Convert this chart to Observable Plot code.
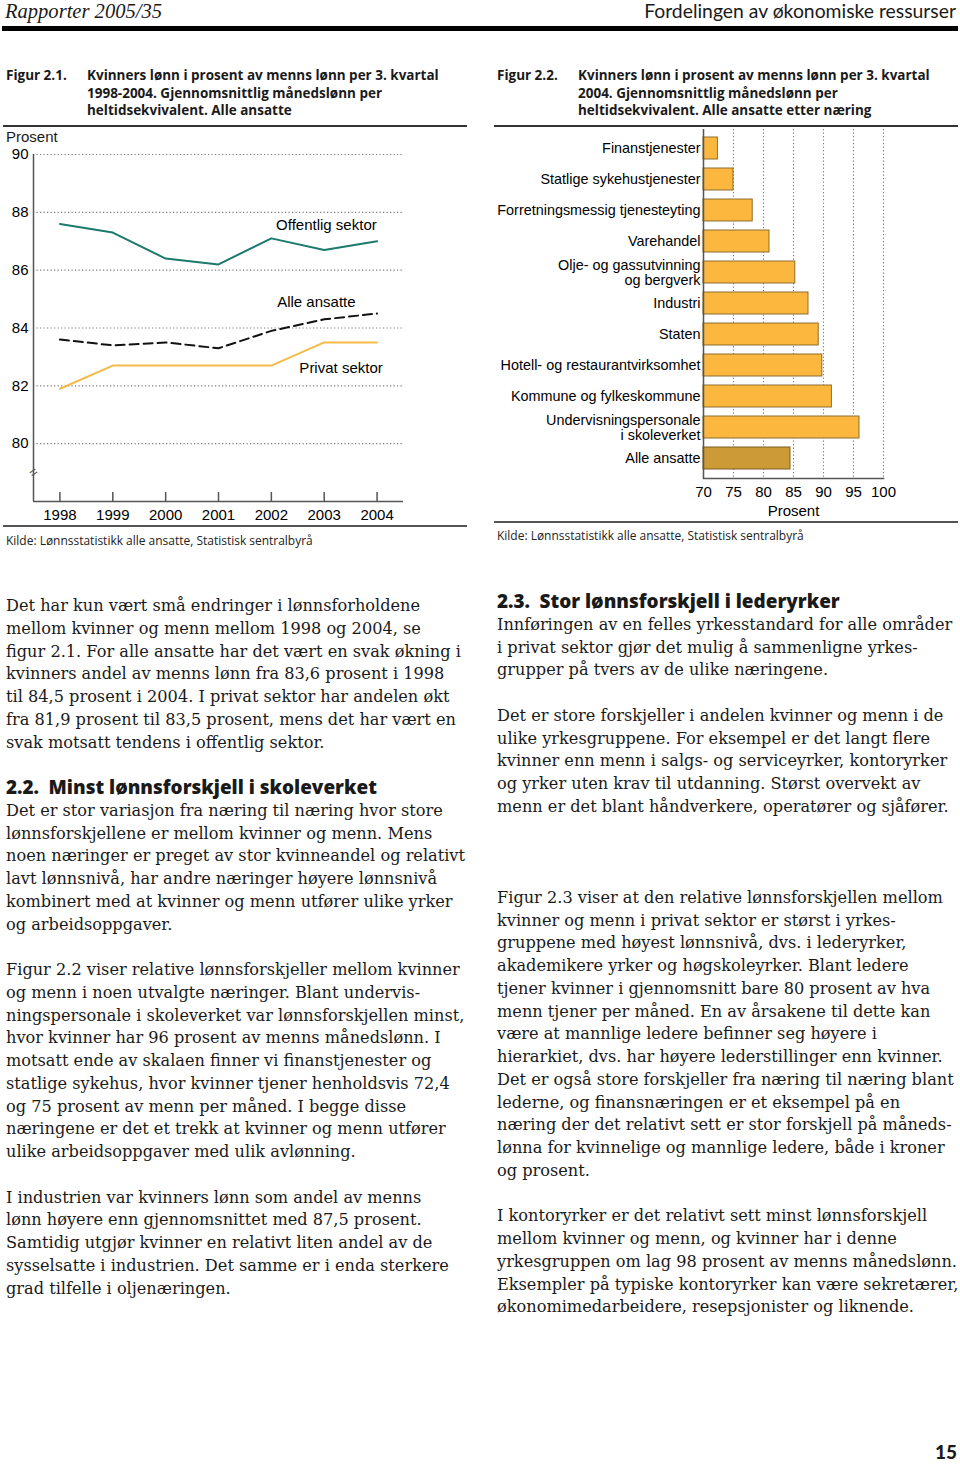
<!DOCTYPE html>
<html>
<head>
<meta charset="utf-8">
<script src="https://cdn.jsdelivr.net/npm/d3@7"></script>
<script src="https://cdn.jsdelivr.net/npm/@observablehq/plot@0.6"></script>
<style>
  html, body { margin: 0; padding: 0; background: #fff; }
  #page { position: relative; width: 960px; height: 1465px; overflow: hidden; background: #fff; color: #1a1a1a; }
  .abs { position: absolute; white-space: nowrap; }
  .serif { font-family: "DejaVu Serif", serif; font-size: 16px; line-height: 22.75px; }
  .head { font-family: "Open Sans", "Lato", sans-serif; font-weight: 800; font-size: 17px; line-height: 22.75px; }
  .ftitle { font-family: "Open Sans", "Lato", sans-serif; font-weight: 700; font-size: 13px; line-height: 17.5px; }
  .src { font-family: "Open Sans", "Lato", sans-serif; font-weight: 400; font-size: 11px; color: #222; }
  .chartsans { font-family: "Liberation Sans", Arial, sans-serif; font-size: 15px; }
  .rule { position: absolute; background: #333; }
</style>
</head>
<body>
<div id="page"></div>
<script>
// ---------- Data: Figur 2.1 ----------
const years = [1998, 1999, 2000, 2001, 2002, 2003, 2004];
const offentligSektor = [87.6, 87.3, 86.4, 86.2, 87.1, 86.7, 87.0];
const alleAnsatte = [83.6, 83.4, 83.5, 83.3, 83.9, 84.3, 84.5];
const privatSektor = [81.9, 82.7, 82.7, 82.7, 82.7, 83.5, 83.5];
const yTicks1 = [80, 82, 84, 86, 88, 90];
const seriesNames = ["Offentlig sektor", "Alle ansatte", "Privat sektor"];
const labelYear = [2002.09, 2002.11, 2002.53];
const labelValue = [87.55, 84.9, 82.62];

// ---------- Data: Figur 2.2 ----------
const naeringer = [
  "Finanstjenester",
  "Statlige sykehustjenester",
  "Forretningsmessig tjenesteyting",
  "Varehandel",
  "Olje- og gassutvinning\nog bergverk",
  "Industri",
  "Staten",
  "Hotell- og restaurantvirksomhet",
  "Kommune og fylkeskommune",
  "Undervisningspersonale\ni skoleverket",
  "Alle ansatte"
];
const andel = [72.4, 75.0, 78.2, 81.0, 85.3, 87.5, 89.2, 89.8, 91.4, 96.0, 84.5];
const xTicks2 = [70, 75, 80, 85, 90, 95, 100];
const baseline = 70;

// ---------- Text ----------
const leftLines = [
  [0, "Det har kun vært små endringer i lønnsforholdene"],
  [1, "mellom kvinner og menn mellom 1998 og 2004, se"],
  [2, "figur 2.1. For alle ansatte har det vært en svak økning i"],
  [3, "kvinners andel av menns lønn fra 83,6 prosent i 1998"],
  [4, "til 84,5 prosent i 2004. I privat sektor har andelen økt"],
  [5, "fra 81,9 prosent til 83,5 prosent, mens det har vært en"],
  [6, "svak motsatt tendens i offentlig sektor."],
  [9, "Det er stor variasjon fra næring til næring hvor store"],
  [10, "lønnsforskjellene er mellom kvinner og menn. Mens"],
  [11, "noen næringer er preget av stor kvinneandel og relativt"],
  [12, "lavt lønnsnivå, har andre næringer høyere lønnsnivå"],
  [13, "kombinert med at kvinner og menn utfører ulike yrker"],
  [14, "og arbeidsoppgaver."],
  [16, "Figur 2.2 viser relative lønnsforskjeller mellom kvinner"],
  [17, "og menn i noen utvalgte næringer. Blant undervis-"],
  [18, "ningspersonale i skoleverket var lønnsforskjellen minst,"],
  [19, "hvor kvinner har 96 prosent av menns månedslønn. I"],
  [20, "motsatt ende av skalaen finner vi finanstjenester og"],
  [21, "statlige sykehus, hvor kvinner tjener henholdsvis 72,4"],
  [22, "og 75 prosent av menn per måned. I begge disse"],
  [23, "næringene er det et trekk at kvinner og menn utfører"],
  [24, "ulike arbeidsoppgaver med ulik avlønning."],
  [26, "I industrien var kvinners lønn som andel av menns"],
  [27, "lønn høyere enn gjennomsnittet med 87,5 prosent."],
  [28, "Samtidig utgjør kvinner en relativt liten andel av de"],
  [29, "sysselsatte i industrien. Det samme er i enda sterkere"],
  [30, "grad tilfelle i oljenæringen."]
];
const rightLines = [
  [1, "Innføringen av en felles yrkesstandard for alle områder"],
  [2, "i privat sektor gjør det mulig å sammenligne yrkes-"],
  [3, "grupper på tvers av de ulike næringene."],
  [5, "Det er store forskjeller i andelen kvinner og menn i de"],
  [6, "ulike yrkesgruppene. For eksempel er det langt flere"],
  [7, "kvinner enn menn i salgs- og serviceyrker, kontoryrker"],
  [8, "og yrker uten krav til utdanning. Størst overvekt av"],
  [9, "menn er det blant håndverkere, operatører og sjåfører."],
  [13, "Figur 2.3 viser at den relative lønnsforskjellen mellom"],
  [14, "kvinner og menn i privat sektor er størst i yrkes-"],
  [15, "gruppene med høyest lønnsnivå, dvs. i lederyrker,"],
  [16, "akademikere yrker og høgskoleyrker. Blant ledere"],
  [17, "tjener kvinner i gjennomsnitt bare 80 prosent av hva"],
  [18, "menn tjener per måned. En av årsakene til dette kan"],
  [19, "være at mannlige ledere befinner seg høyere i"],
  [20, "hierarkiet, dvs. har høyere lederstillinger enn kvinner."],
  [21, "Det er også store forskjeller fra næring til næring blant"],
  [22, "lederne, og finansnæringen er et eksempel på en"],
  [23, "næring der det relativt sett er stor forskjell på måneds-"],
  [24, "lønna for kvinnelige og mannlige ledere, både i kroner"],
  [25, "og prosent."],
  [27, "I kontoryrker er det relativt sett minst lønnsforskjell"],
  [28, "mellom kvinner og menn, og kvinner har i denne"],
  [29, "yrkesgruppen om lag 98 prosent av menns månedslønn."],
  [30, "Eksempler på typiske kontoryrker kan være sekretærer,"],
  [31, "økonomimedarbeidere, resepsjonister og liknende."]
];

const page = document.getElementById("page");
function add(cls, text, left, top, extra) {
  const d = document.createElement("div");
  d.className = "abs " + cls;
  d.textContent = text;
  d.style.left = left + "px";
  d.style.top = top + "px";
  if (extra) Object.assign(d.style, extra);
  page.appendChild(d);
  return d;
}
function rule(left, top, width, height, color) {
  const d = document.createElement("div");
  d.className = "rule";
  Object.assign(d.style, {left: left + "px", top: top + "px", width: width + "px", height: height + "px", background: color || "#333"});
  page.appendChild(d);
}
function calibrate(els, refEl, target) {
  const w = refEl.getBoundingClientRect().width;
  const fs = parseFloat(getComputedStyle(refEl).fontSize);
  const nfs = fs * target / w;
  els.forEach(e => e.style.fontSize = nfs + "px");
}

// Header
const hL = add("", "Rapporter 2005/35", 5, 0, {fontFamily: "Liberation Serif, serif", fontStyle: "italic", fontSize: "19px", lineHeight: "22px"});
const hR = add("", "Fordelingen av økonomiske ressurser", 0, 0, {fontFamily: "Lato, sans-serif", fontSize: "18px", lineHeight: "22px"});
calibrate([hL], hL, 157);
calibrate([hR], hR, 312);
hR.style.left = (956 - hR.getBoundingClientRect().width) + "px";
rule(2, 26, 956, 4.5, "#000");

// Figure titles
const titles = [];
const t1 = ["Kvinners lønn i prosent av menns lønn per 3. kvartal", "1998-2004. Gjennomsnittlig månedslønn per", "heltidsekvivalent. Alle ansatte"];
const t2 = ["Kvinners lønn i prosent av menns lønn per 3. kvartal", "2004. Gjennomsnittlig månedslønn per", "heltidsekvivalent. Alle ansatte etter næring"];
titles.push(add("ftitle", "Figur 2.1.", 6, 67));
titles.push(add("ftitle", "Figur 2.2.", 497, 67));
t1.forEach((s, i) => titles.push(add("ftitle", s, 87, 67 + i * 17.5)));
t2.forEach((s, i) => titles.push(add("ftitle", s, 578, 67 + i * 17.5)));
calibrate(titles, titles[2], 352);
rule(3, 125, 464, 1.5, "#333");
rule(494, 125, 464, 1.5, "#333");
rule(3, 525, 464, 2, "#555");
rule(494, 521, 464, 2, "#555");
const srcs = [
  add("src", "Kilde: Lønnsstatistikk alle ansatte, Statistisk sentralbyrå", 6, 532),
  add("src", "Kilde: Lønnsstatistikk alle ansatte, Statistisk sentralbyrå", 497, 527)
];
calibrate(srcs, srcs[0], 307);

add("chartsans", "Prosent", 6, 128);

// ---------- Chart 1 ----------
const rows1 = years.flatMap((yr, i) => [
  {serie: "Offentlig sektor", year: yr, v: offentligSektor[i]},
  {serie: "Alle ansatte", year: yr, v: alleAnsatte[i]},
  {serie: "Privat sektor", year: yr, v: privatSektor[i]}
]);
const axisColor = "#555";
const chart1 = Plot.plot({
  width: 467, height: 397,
  marginLeft: 33, marginRight: 64, marginTop: 26, marginBottom: 24,
  style: {fontFamily: "'Liberation Sans', Arial, sans-serif", fontSize: "15px", color: "#000", background: "transparent", overflow: "visible"},
  x: {domain: [1997.5, 2004.5]},
  y: {domain: [78, 90]},
  marks: [
    Plot.gridY(yTicks1, {stroke: "#7a7a7a", strokeOpacity: 1, strokeWidth: 1.2, strokeDasharray: "1.2,2.3"}),
    Plot.axisY(yTicks1, {tickSize: 0, tickPadding: 5, fontSize: 15, label: null}),
    Plot.axisX(years, {tickSize: 0, tickPadding: 8, fontSize: 15, tickFormat: d => String(d), label: null}),
    Plot.ruleX(years, {x: d => d, y1: 78, y2: 78.31, stroke: axisColor, strokeWidth: 1.5}),
    Plot.ruleX([1997.5], {stroke: axisColor, strokeWidth: 1.5}),
    Plot.ruleY([78], {stroke: axisColor, strokeWidth: 1.5}),
    Plot.text([79], {x: 1997.5, y: d => d, text: () => "=", rotate: -35, fontSize: 14, fill: axisColor}),
    Plot.line(rows1.filter(d => d.serie === "Offentlig sektor"), {x: "year", y: "v", stroke: "#1b7a6c", strokeWidth: 2}),
    Plot.line(rows1.filter(d => d.serie === "Privat sektor"), {x: "year", y: "v", stroke: "#f5bb48", strokeWidth: 2}),
    Plot.line(rows1.filter(d => d.serie === "Alle ansatte"), {x: "year", y: "v", stroke: "#111", strokeWidth: 2, strokeDasharray: "9,5"}),
    Plot.text(seriesNames, {x: (d, i) => labelYear[i], y: (d, i) => labelValue[i], text: d => d, textAnchor: "start", fontSize: 15, fill: "#000"})
  ]
});
const c1 = document.createElement("div");
c1.style.cssText = "position:absolute;left:0px;top:128px;";
c1.appendChild(chart1);
page.appendChild(c1);

// ---------- Chart 2 ----------
const bars = naeringer.map((n, i) => ({name: n, v: andel[i]}));
const chart2 = Plot.plot({
  width: 466, height: 394,
  marginLeft: 209, marginRight: 77, marginTop: 1, marginBottom: 44,
  style: {fontFamily: "'Liberation Sans', Arial, sans-serif", fontSize: "14.4px", color: "#000", background: "transparent", overflow: "visible"},
  x: {domain: [70, 100]},
  y: {domain: naeringer, paddingInner: 0.29, paddingOuter: 0.13},
  marks: [
    Plot.gridX(xTicks2, {stroke: "#7a7a7a", strokeOpacity: 1, strokeWidth: 1.1, strokeDasharray: "1.2,2.3"}),
    Plot.barX(bars.filter(d => d.name !== "Alle ansatte"), {x1: baseline, x2: "v", y: "name", fill: "#fcb83e", stroke: "#8d6d2e", strokeWidth: 1}),
    Plot.barX(bars.filter(d => d.name === "Alle ansatte"), {x1: baseline, x2: "v", y: "name", fill: "#cd9b35", stroke: "#7d5f25", strokeWidth: 1}),
    Plot.ruleX([baseline], {stroke: axisColor, strokeWidth: 1.5}),
    Plot.frame({anchor: "bottom", stroke: axisColor, strokeWidth: 1.5}),
    Plot.axisY({tickSize: 0, tickPadding: 3, fontSize: 14.4, lineHeight: 1.05, label: null}),
    Plot.axisX(xTicks2, {tickSize: 0, tickPadding: 8, fontSize: 15, label: "Prosent", labelAnchor: "center", labelOffset: 37, labelArrow: "none"})
  ]
});
const c2 = document.createElement("div");
c2.style.cssText = "position:absolute;left:494px;top:128px;";
c2.appendChild(chart2);
page.appendChild(c2);

// ---------- Body text ----------
const step = 22.75;
const y0L = 605, y0R = 601;
const bodyEls = [];
leftLines.forEach(([i, s]) => bodyEls.push(add("serif", s, 6, y0L + i * step - 10)));
rightLines.forEach(([i, s]) => bodyEls.push(add("serif", s, 497, y0R + i * step - 10)));
calibrate(bodyEls, bodyEls[0], 414.5);

const heads = [
  add("head", "2.2.\u2002Minst lønnsforskjell i skoleverket", 6, y0L + 8 * step - 11),
  add("head", "2.3.\u2002Stor lønnsforskjell i lederyrker", 497, y0R - 11)
];
calibrate(heads, heads[0], 371);

add("", "15", 935, 1441, {fontFamily: "Lato, 'Open Sans', sans-serif", fontWeight: "900", fontSize: "19px", lineHeight: "22px"});
</script>
</body>
</html>
